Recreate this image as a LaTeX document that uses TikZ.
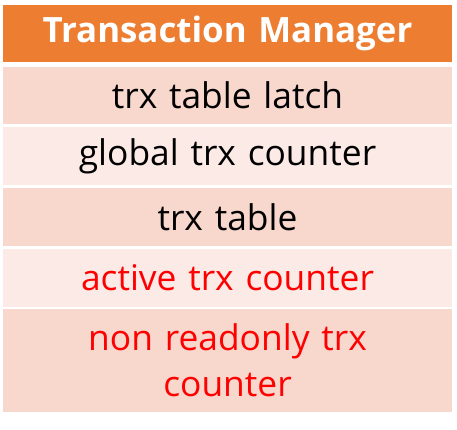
\documentclass[tikz,border=0pt]{standalone}
\usepackage{fontspec}
\setmainfont{Open Sans}
\definecolor{hdrorange}{HTML}{ED7D31}
\definecolor{banddark}{HTML}{F8D7CD}
\definecolor{bandlight}{HTML}{FBEAE6}
\definecolor{hotred}{HTML}{FF0000}
\begin{document}
\begin{tikzpicture}[x=1bp,y=-1bp,
  cell/.style={inner sep=0pt, outer sep=0pt, text width=449bp, align=center,
    font=\fontsize{35.5}{46}\selectfont},
  headcell/.style={cell, fill=hdrorange, text=white, font=\fontsize{35}{40}\selectfont\bfseries},
  darkrow/.style={cell, fill=banddark},
  lightrow/.style={cell, fill=bandlight},
  plain/.style={text=black},
  flagged/.style={text=hotred}]
  \useasboundingbox (0,0) rectangle (457,429);
  \fill[white] (0,0) rectangle (457,429);
  % header and rows: each band is a filled box with its label centred
  \node[headcell, minimum height=57bp, anchor=north west] (head) at (3,5) {Transaction Manager};
  \node[darkrow, plain, minimum height=57bp, anchor=north west] (latch) at (3,67) {trx table latch};
  \node[lightrow, plain, minimum height=58bp, anchor=north west] (global) at (3,127) {global trx counter};
  \node[darkrow, plain, minimum height=58bp, anchor=north west] (table) at (3,188) {trx table};
  \node[lightrow, flagged, minimum height=58bp, anchor=north west] (active) at (3,249) {active trx counter};
  \node[darkrow, flagged, minimum height=103bp, anchor=north west] (nonro) at (3,309) {non readonly trx\\counter};
\end{tikzpicture}
\end{document}
